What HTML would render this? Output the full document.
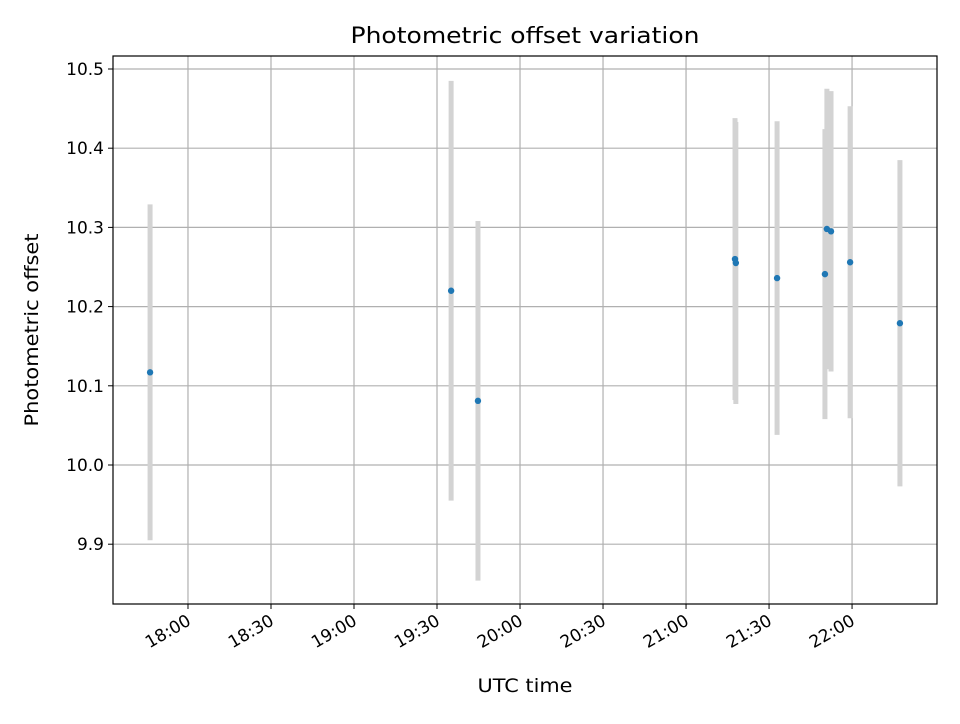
<!DOCTYPE html>
<html><head><meta charset="utf-8"><style>
body{margin:0;background:#fff;font-family:"DejaVu Sans","Liberation Sans",sans-serif;}
</style></head><body>
<svg id="chart" width="960" height="720" xmlns="http://www.w3.org/2000/svg" font-family="DejaVu Sans, Liberation Sans, sans-serif">
<rect width="960" height="720" fill="#fff"/>
<text x="525" y="43" font-size="22" text-anchor="middle" textLength="349" lengthAdjust="spacingAndGlyphs">Photometric offset variation</text>
<g id="grid"></g><g id="bars"></g><g id="pts"></g><g id="axes"></g>
<text x="525" y="692" font-size="19" text-anchor="middle" textLength="95" lengthAdjust="spacingAndGlyphs">UTC time</text>
<text transform="translate(38,330) rotate(-90)" font-size="19" text-anchor="middle" textLength="193" lengthAdjust="spacingAndGlyphs">Photometric offset</text>
</svg>
<script>
// minutes after 18:00 UTC
const times=[-13.7,95.1,104.8,197.7,198.0,212.9,230.2,230.9,232.4,239.3,257.3];
const offsets=[10.117,10.220,10.081,10.260,10.255,10.236,10.241,10.298,10.295,10.256,10.179];
const errors=[0.212,0.265,0.227,0.178,0.178,0.198,0.183,0.177,0.177,0.197,0.206];
const xTickMinutes=[0,30,60,90,120,150,180,210,240];
const xTickLabels=["18:00","18:30","19:00","19:30","20:00","20:30","21:00","21:30","22:00"];
const yTicks=[9.9,10.0,10.1,10.2,10.3,10.4,10.5];
const yTickLabels=["9.9","10.0","10.1","10.2","10.3","10.4","10.5"];
const L=113,R=937,T=56,B=604;
const x0=-27.1,x1=270.7,y0=9.8245,y1=10.5164;
const X=v=>L+(v-x0)/(x1-x0)*(R-L);
const Y=v=>B-(v-y0)/(y1-y0)*(B-T);
const NS="http://www.w3.org/2000/svg";
function mk(tag,parent,attrs){const e=document.createElementNS(NS,tag);for(const k in attrs)e.setAttribute(k,attrs[k]);document.getElementById(parent).appendChild(e);return e;}
xTickMinutes.forEach((m,i)=>{const x=X(m);
 let g=mk('line','grid',{x1:x,x2:x,y1:T,y2:B,stroke:'#b0b0b0','stroke-width':1.2});
 
 
 let t=mk('line','axes',{x1:x,x2:x,y1:B,y2:B+5,stroke:'#000'});
 
 
 let l=mk('text','axes',{x:x+4,y:B+20,'font-size':17,'text-anchor':'end',transform:`rotate(-30 ${x+4} ${B+20})`});
 l.textContent=xTickLabels[i];
 
 
});
yTicks.forEach((v,i)=>{const y=Y(v);
 let g=mk('line','grid',{x1:L,x2:R,y1:y,y2:y,stroke:'#b0b0b0','stroke-width':1.2});
 
 
 let t=mk('line','axes',{x1:L-5,x2:L,y1:y,y2:y,stroke:'#000'});
 
 
 let l=mk('text','axes',{x:L-9,y:y+6,'font-size':17,'text-anchor':'end'});
 l.textContent=yTickLabels[i];
 
 
});
let fr=mk('rect','axes',{x:L,y:T,width:R-L,height:B-T,fill:'none',stroke:'#000','stroke-width':1.2});


times.forEach((t,i)=>{const x=X(t);
 let b=mk('line','bars',{x1:x,x2:x,y1:Y(offsets[i]+errors[i]),y2:Y(offsets[i]-errors[i]),stroke:'#d3d3d3','stroke-width':5});
 
 
 let c=mk('circle','pts',{cx:x,cy:Y(offsets[i]),r:3.2,fill:'#1f77b4'});
 
 
});
</script>
</body></html>
